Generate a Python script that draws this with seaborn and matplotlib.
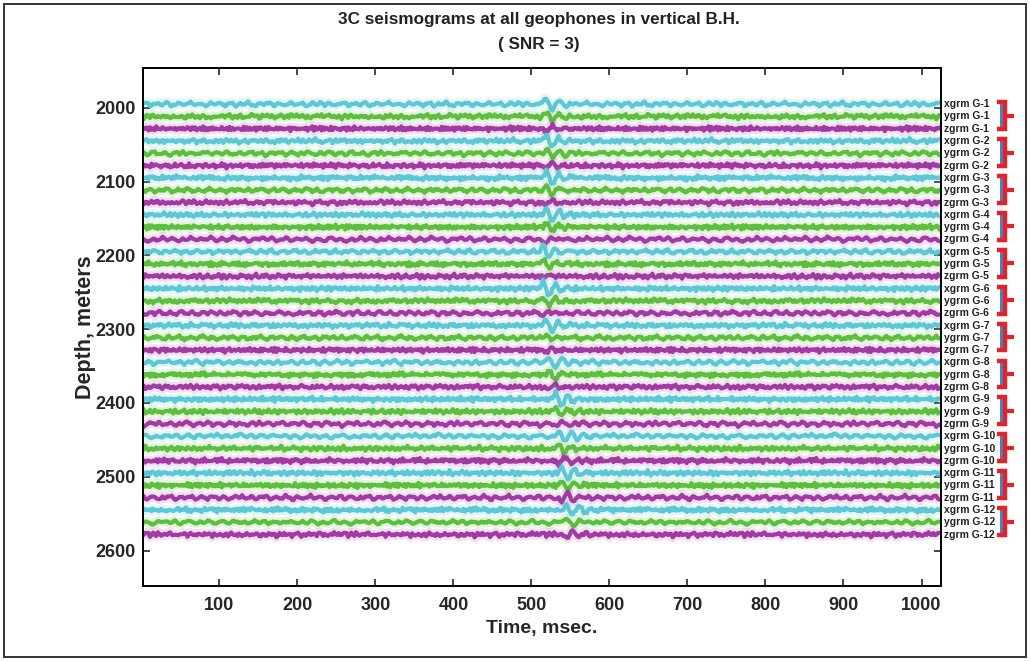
import numpy as np
import pandas as pd
import matplotlib
matplotlib.use("Agg")
import matplotlib.pyplot as plt
import seaborn as sns
from matplotlib.transforms import blended_transform_factory
from matplotlib.patches import Rectangle

# ---------------- data ----------------
geophones = ["G-%d" % i for i in range(1, 13)]
components = ["xgrm", "ygrm", "zgrm"]
geophone_depth = [2000, 2050, 2100, 2150, 2200, 2250, 2300, 2350, 2400, 2450, 2500, 2550]
comp_offset = [-5.0, 11.7, 28.3]
# first-arrival time (ms) per geophone
arrival_ms = [518, 519, 519, 518, 516, 516, 519, 524, 530, 534, 539, 545]
# wavelet amplitude (m of display) per component, per geophone
x_amp = [10, 9, 9, 9, 10, 10, 10, 9, 9, 8, 8, 8]
y_amp = [6, 6, 5, 5, 5, 5, 5, 6, 6, 6, 6, 6]
z_amp = [-4, -4, -3, -3, -2, -2, -3, -4, -5, -6, -6, -7]
# wavelet samples at 2 ms
wavelet = [0.0, 0.2, 0.6, 1.0, 0.6, -0.1, -0.7, -0.9, -0.6, 0.0, 0.4, 0.6,
           0.4, 0.0, -0.3, -0.4, -0.2, 0.1, 0.25, 0.15, 0.0, -0.1, 0.0]
noise_base = [
    0.2, 0.6, 0.9, 0.5, -0.1, -0.6, -0.8, -0.3, 0.3, 0.7,
    0.4, -0.2, -0.5, -0.2, 0.4, 0.9, 0.7, 0.1, -0.4, -0.9,
    -0.7, -0.2, 0.2, 0.5, 0.3, -0.1, -0.4, -0.6, -0.2, 0.4,
    0.8, 1.0, 0.5, -0.1, -0.5, -0.3, 0.1, 0.4, 0.1, -0.5,
    -1.0, -0.8, -0.3, 0.2, 0.6, 0.4, 0.0, -0.3, 0.1, 0.6,
    0.8, 0.3, -0.3, -0.7, -0.5, 0.0, 0.5, 0.7, 0.2, -0.4,
    -0.8, -0.6, -0.1, 0.3, 0.1, -0.2, 0.2, 0.7, 0.9, 0.4,
    -0.2, -0.6, -0.9, -0.5, 0.1, 0.6, 0.3, -0.1, -0.4, -0.1,
    0.5, 0.8, 0.6, 0.0, -0.5, -0.7, -0.3, 0.2, 0.6, 0.2,
    -0.3, -0.8, -0.6, 0.0, 0.4, 0.9, 0.6, 0.1, -0.2, -0.6,
    -0.4, 0.1, 0.5, 0.3, -0.2, -0.7, -0.9, -0.4, 0.2, 0.7,
    0.5, 0.0, -0.3, 0.2, 0.7, 0.4, -0.1, -0.5, -0.2, 0.3,
    0.6, 0.2, -0.4, -0.7, -0.3, 0.1, 0.4]
noise_step = [1, 2, 3, 2, 1, 3, 3, 1, 2, 2, 3, 1, 1, 3, 2, 3, 2, 1,
              2, 1, 3, 1, 3, 2, 3, 2, 1, 1, 2, 3, 2, 3, 1, 3, 1, 2]
noise_offset = [0, 17, 41, 63, 88, 5, 29, 52, 76, 101, 11, 37, 60, 83, 110, 23, 46, 70,
                95, 119, 8, 33, 57, 80, 104, 14, 39, 66, 91, 116, 2, 27, 50, 74, 99, 122]
# second, finer noise layer
fine_step = [5, 7, 4, 6, 5, 8, 7, 4, 6, 5, 9, 7, 4, 6, 8, 5, 7, 9,
             6, 4, 5, 8, 7, 6, 9, 4, 5, 7, 8, 6, 4, 9, 5, 7, 6, 8]
noise_amp = 2.7
fine_amp = 1.6
x_ticks = [100, 200, 300, 400, 500, 600, 700, 800, 900, 1000]
y_ticks = [2000, 2100, 2200, 2300, 2400, 2500, 2600]

# ---------------- style ----------------
sns.set_style("ticks")
plt.rcParams["font.family"] = ["Liberation Sans", "DejaVu Sans"]
colors = ["#5cc8d6", "#5cc03c", "#a33aa3"]

fig = plt.figure(figsize=(10.30, 6.61), dpi=100)
ax = fig.add_axes([0.1388, 0.1135, 0.7748, 0.7836])
ax.set_facecolor("white")

t = np.arange(1, 1025, 2)
amps = [x_amp, y_amp, z_amp]
base = np.array(noise_base)
N = len(base)
for g in range(12):
    for c in range(3):
        k = 3 * g + c
        n = np.arange(len(t))
        idx = (n * noise_step[k] + noise_offset[k]) % N
        idx2 = (n * fine_step[k] + noise_offset[35 - k]) % N
        sig = noise_amp * base[idx] + fine_amp * base[idx2]
        start = int(round((arrival_ms[g] - 6 - t[0]) / 2))
        w = np.array(wavelet) * amps[c][g]
        sig[start:start + len(w)] += w
        depth = geophone_depth[g] + comp_offset[c]
        df = pd.DataFrame({"time": t, "depth": depth - sig})
        sns.lineplot(data=df, x="time", y="depth", ax=ax, color=colors[c],
                     lw=7, alpha=0.15, sort=False, estimator=None)
        sns.lineplot(data=df, x="time", y="depth", ax=ax, color=colors[c],
                     lw=3.0, sort=False, estimator=None)

ax.set_xlim(2, 1025)
ax.set_ylim(2648, 1946)
ax.set_xticks(x_ticks)
ax.set_yticks(y_ticks)
ax.tick_params(direction="in", length=5, width=1.2, top=True, right=True,
               labelsize=13, pad=5)
ax.tick_params(axis="x", pad=8)
for lab in ax.get_xticklabels() + ax.get_yticklabels():
    lab.set_fontweight("bold")
for s in ax.spines.values():
    s.set_linewidth(1.4)
    s.set_color("black")
ax.set_xlabel("Time, msec.", fontsize=14, fontweight="bold", labelpad=4)
ax.set_ylabel("Depth, meters", fontsize=15.5, fontweight="bold", labelpad=0)

# right-side trace labels and brackets
tr = blended_transform_factory(ax.transAxes, ax.transData)
for g in range(12):
    for c in range(3):
        d = geophone_depth[g] + comp_offset[c]
        ax.text(1.004, d, "%s %s" % (components[c], geophones[g]), transform=tr,
                fontsize=7.5, fontweight="bold", va="center", ha="left",
                clip_on=False, color="#222222")
    top = geophone_depth[g] + comp_offset[0] - 2.5
    bot = geophone_depth[g] + comp_offset[2] + 0.5
    mid = (top + bot) / 2
    ax.add_patch(Rectangle((1.0735, top + 2), 0.0058, bot - top - 4, transform=tr,
                           facecolor="#3a86c8", edgecolor="none", clip_on=False))
    ax.plot([1.0700, 1.0805, 1.0805, 1.0700], [top, top, bot, bot], transform=tr,
            color="#e8202a", lw=3.2, clip_on=False, solid_capstyle="butt",
            solid_joinstyle="miter")
    ax.plot([1.0805, 1.0920], [mid, mid], transform=tr, color="#e8202a", lw=3.0,
            clip_on=False, solid_capstyle="butt")

# title
fig.text(0.523, 0.970, "3C seismograms at all geophones in vertical B.H.",
         ha="center", va="center", fontsize=12.3, fontweight="bold", color="#222222")
fig.text(0.523, 0.932, "( SNR = 3)", ha="center", va="center",
         fontsize=12.3, fontweight="bold", color="#222222")

# outer frame
fig.patches.append(Rectangle((4 / 1030, 4 / 661), 1022 / 1030, 653 / 661,
                             transform=fig.transFigure, fill=False,
                             edgecolor="#333333", lw=1.4))

fig.savefig("out.png", dpi=100)
